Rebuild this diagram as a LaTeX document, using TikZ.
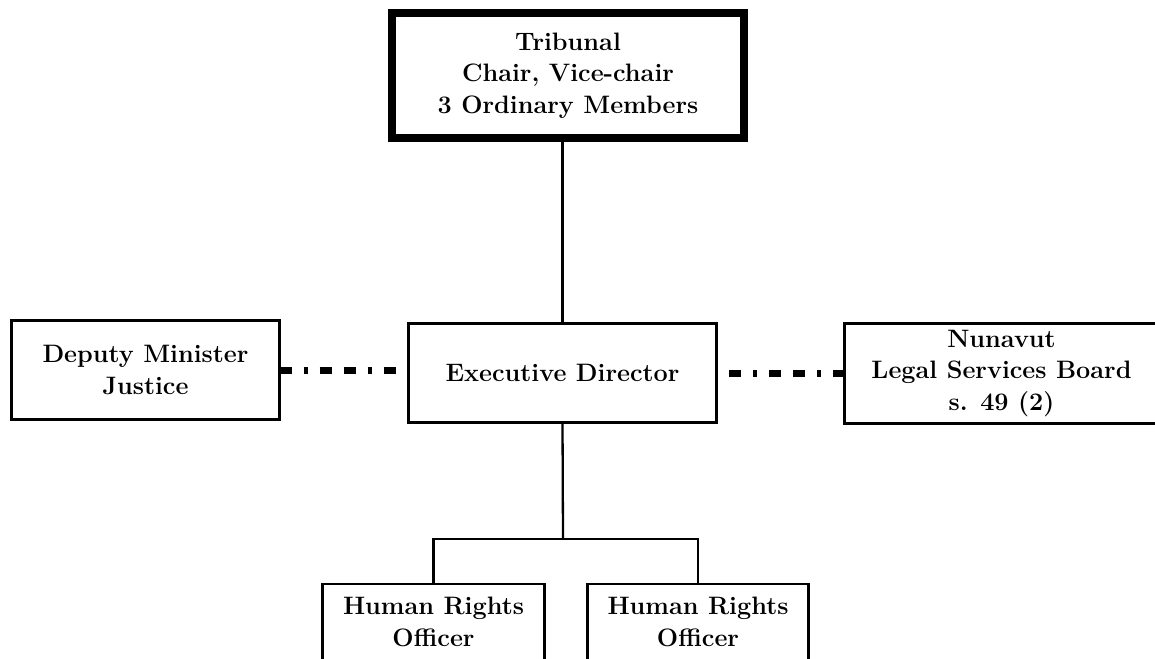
\documentclass[tikz,border=0pt]{standalone}
\usepackage{tikz}
\usetikzlibrary{positioning,calc}
\tikzset{
    x=1pt,
    y=-1pt,
    block/.style = {
        draw,
        shape=rectangle,
        align=center,
        outer sep=0pt,
        inner sep=0pt,
        font=\fontsize{25.2}{31.5}\selectfont\bfseries,
        line width=2.6pt
    },
    board/.style = {
        block,
        line width=8pt
    },
    line/.style = {
        line width=2.3pt
    },
    liaison/.style = {
        line width=7pt,
        dash pattern=on 12pt off 12pt on 4pt off 12pt on 12pt off 12pt
    },
}
\begin{document}
\begin{tikzpicture}
            \useasboundingbox (0,0) rectangle (1155,658);
            \node[board, minimum width=352, minimum height=125] (tribunal) at (568,75.5) {Tribunal\\Chair, Vice-chair\\3 Ordinary Members};
            \node[block, minimum width=308, minimum height=99] (exec) at (562.5,373) {Executive Director};
            \node[block, minimum width=268, minimum height=99] (deputy) at (145.5,370) {Deputy Minister\\Justice};
            \node[block, minimum width=314, minimum height=100] (nunavut) at (1001.5,373.5) {Nunavut\\Legal Services Board\\s. 49 (2)};
            \node[block, anchor=north, minimum width=222, minimum height=76] (hrleft) at (433.5,584) {Human Rights\\Officer};
            \node[block, anchor=north, minimum width=221, minimum height=76] (hrright) at (698,584) {Human Rights\\Officer};
            \coordinate (split) at (563,539);

            \path[draw, line] (exec.north) -- (exec.north |- tribunal.south);
            \path[draw, line] (exec.south) -- (split);
            \path[draw, line] (hrleft.north) |- (split) -| (hrright.north);
            \path[draw, liaison] (deputy.east) -- (deputy.east -| exec.west);
            \path[draw, liaison] (nunavut.west) -- (nunavut.west -| exec.east);
        \end{tikzpicture}
\end{document}
